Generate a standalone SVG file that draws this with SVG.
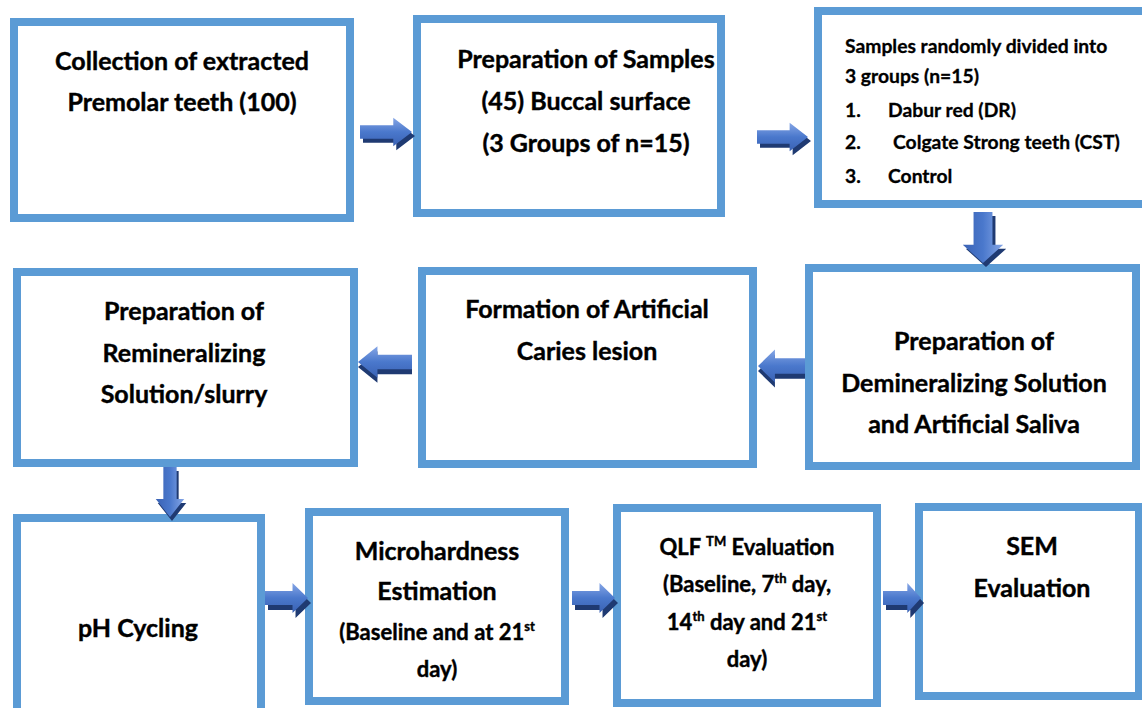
<svg xmlns="http://www.w3.org/2000/svg" xmlns:xlink="http://www.w3.org/1999/xlink" width="1142" height="708" viewBox="0 0 1142 708">
<style>
.box{fill:#ffffff;stroke:#5b9bd5;stroke-width:8}
.t{font-family:Lato,"Liberation Sans",sans-serif;font-weight:700;fill:#000;stroke:#000;stroke-width:0.4;text-anchor:middle;font-size:25px}
.s{font-size:22px}
.l{font-family:Lato,"Liberation Sans",sans-serif;font-weight:700;fill:#000;stroke:#000;stroke-width:0.3;font-size:19.3px}
.sup{font-size:13px}
</style>
<defs>
<linearGradient id="ag" x1="0" y1="0" x2="0" y2="1">
<stop offset="0" stop-color="#86a6e6"/>
<stop offset="0.5" stop-color="#4a78cc"/>
<stop offset="1" stop-color="#3a62b4"/>
</linearGradient>
<path id="arr" d="M0,-7 H32 V-15 L50,0 L32,15 V7 H0 Z"/>
</defs>
<rect x="0" y="0" width="1142" height="708" fill="#ffffff"/>

<g id="n1"><rect class="box" x="14" y="22" width="336" height="196"/>
<text class="t" x="182" y="70">Collection of extracted</text>
<text class="t" x="182" y="111">Premolar teeth (100)</text></g>

<g id="n2"><rect class="box" x="417" y="19" width="304" height="194"/>
<text class="t" x="586" y="68">Preparation of Samples</text>
<text class="t" x="586" y="110">(45) Buccal surface</text>
<text class="t" x="586" y="152">(3 Groups of n=15)</text></g>

<g id="n3"><rect class="box" x="818" y="11" width="330" height="193"/>
<text class="l" x="845" y="53">Samples randomly divided into</text>
<text class="l" x="845" y="83">3 groups (n=15)</text>
<text class="l" x="845" y="117">1.</text><text class="l" x="888" y="117">Dabur red (DR)</text>
<text class="l" x="845" y="149">2.</text><text class="l" x="893" y="149">Colgate Strong teeth (CST)</text>
<text class="l" x="845" y="183">3.</text><text class="l" x="888" y="183">Control</text></g>

<g id="n4"><rect class="box" x="17" y="272" width="337" height="191"/>
<text class="t" x="184" y="320">Preparation of</text>
<text class="t" x="184" y="362">Remineralizing</text>
<text class="t" x="184" y="403">Solution/slurry</text></g>

<g id="n5"><rect class="box" x="422" y="271" width="331" height="193"/>
<text class="t" x="587" y="318">Formation of Artificial</text>
<text class="t" x="587" y="360">Caries lesion</text></g>

<g id="n6"><rect class="box" x="809" y="268" width="327" height="198"/>
<text class="t" x="974" y="350">Preparation of</text>
<text class="t" x="974" y="392">Demineralizing Solution</text>
<text class="t" x="974" y="433">and Artificial Saliva</text></g>

<g id="n7"><rect class="box" x="17" y="518" width="244" height="196"/>
<text class="t" x="138" y="637">pH Cycling</text></g>

<g id="n8"><rect class="box" x="309" y="512" width="256" height="189"/>
<text class="t" x="437" y="560">Microhardness</text>
<text class="t" x="437" y="600">Estimation</text>
<text class="t s" x="437" y="640">(Baseline and at 21<tspan class="sup" dy="-9">st</tspan></text>
<text class="t s" x="437" y="677">day)</text></g>

<g id="n9"><rect class="box" x="617" y="508" width="260" height="195"/>
<text class="t s" x="747" y="555">QLF <tspan class="sup" dy="-9">TM</tspan><tspan dy="9"> Evaluation</tspan></text>
<text class="t s" x="747" y="592">(Baseline, 7<tspan class="sup" dy="-9">th</tspan><tspan dy="9"> day,</tspan></text>
<text class="t s" x="747" y="630">14<tspan class="sup" dy="-9">th</tspan><tspan dy="9"> day and 21</tspan><tspan class="sup" dy="-9">st</tspan></text>
<text class="t s" x="747" y="667">day)</text></g>

<g id="n10"><rect class="box" x="919" y="507" width="220" height="189"/>
<text class="t" x="1032" y="555">SEM</text>
<text class="t" x="1032" y="597">Evaluation</text></g>

<g id="connectors">
<g transform="translate(360,132)"><use href="#arr" fill="#1f3a72" transform="translate(3,4) scale(1.04,0.95)"/><use href="#arr" fill="url(#ag)" transform="scale(1.04,0.95)"/></g>
<g transform="translate(757,137)"><use href="#arr" fill="#1f3a72" transform="translate(3,4) scale(1.02,0.95)"/><use href="#arr" fill="url(#ag)" transform="scale(1.02,0.95)"/></g>
<g transform="translate(983,212)"><use href="#arr" fill="#1f3a72" transform="translate(3,4) rotate(90) scale(1.02,1.35)"/><use href="#arr" fill="url(#ag)" transform="rotate(90) scale(1.02,1.35)"/></g>
<g transform="translate(805,366)"><use href="#arr" fill="#1f3a72" transform="translate(0,5) scale(-0.94,1.1)"/><use href="#arr" fill="url(#ag)" transform="scale(-0.94,1.1)"/></g>
<g transform="translate(412,362)"><use href="#arr" fill="#1f3a72" transform="translate(0,5) scale(-1.08,1.05)"/><use href="#arr" fill="url(#ag)" transform="scale(-1.08,1.05)"/></g>
<g transform="translate(170,467)"><use href="#arr" fill="#1f3a72" transform="translate(2,4) rotate(90) scale(1.0,0.95)"/><use href="#arr" fill="url(#ag)" transform="rotate(90) scale(1.0,0.95)"/></g>
<g transform="translate(265,598)"><use href="#arr" fill="#1f3a72" transform="translate(3,5) scale(0.86,1.0)"/><use href="#arr" fill="url(#ag)" transform="scale(0.86,1.0)"/></g>
<g transform="translate(572,598)"><use href="#arr" fill="#1f3a72" transform="translate(3,5) scale(0.86,1.0)"/><use href="#arr" fill="url(#ag)" transform="scale(0.86,1.0)"/></g>
<g transform="translate(883,598)"><use href="#arr" fill="#1f3a72" transform="translate(3,5) scale(0.76,1.0)"/><use href="#arr" fill="url(#ag)" transform="scale(0.76,1.0)"/></g>
</g>
</svg>
